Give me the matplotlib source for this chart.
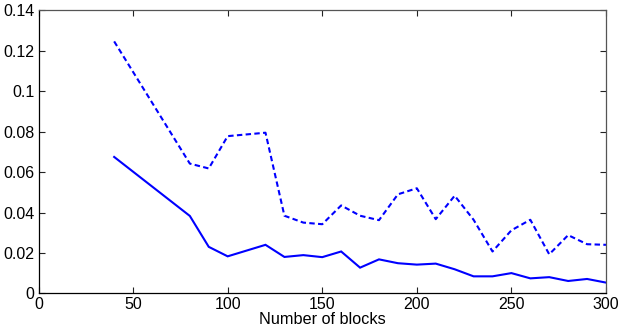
import matplotlib
matplotlib.use("Agg")
import matplotlib.pyplot as plt

blocks_solid = [40, 80, 90, 100, 120, 130, 140, 150, 160, 170, 180, 190, 200,
                210, 220, 230, 240, 250, 260, 270, 280, 290, 300]
solid_vals = [0.0675, 0.0383, 0.0230, 0.0183, 0.0240, 0.0180, 0.0189, 0.0179,
              0.0207, 0.0127, 0.0168, 0.0149, 0.0142, 0.0147, 0.0119, 0.0084,
              0.0084, 0.0100, 0.0074, 0.0080, 0.0061, 0.0071, 0.0053]
blocks_dashed = blocks_solid
dashed_vals = [0.1247, 0.0642, 0.0618, 0.0778, 0.0795, 0.0384, 0.0350, 0.0342,
               0.0435, 0.0384, 0.0362, 0.0490, 0.0520, 0.0367, 0.0483, 0.0364,
               0.0207, 0.0312, 0.0364, 0.0193, 0.0288, 0.0243, 0.0240]

xticks = [0, 50, 100, 150, 200, 250, 300]
yticks = [0, 0.02, 0.04, 0.06, 0.08, 0.1, 0.12, 0.14]
ytick_labels = ["0", "0.02", "0.04", "0.06", "0.08", "0.1", "0.12", "0.14"]
xlabel = "Number of blocks"

plt.rcParams['font.family'] = ['Liberation Sans', 'DejaVu Sans']

fig = plt.figure(figsize=(6.23, 3.33), dpi=100)
ax = fig.add_axes([0.0618, 0.1192, 0.9727 - 0.0618, 0.9685 - 0.1192])

ax.plot(blocks_solid, solid_vals, color='#0000ff', lw=1.5, solid_joinstyle='miter')
ax.plot(blocks_dashed, dashed_vals, color='#0000ff', lw=1.5, dashes=(2.6, 1.6))

ax.set_xlim(0, 300)
ax.set_ylim(0, 0.14)
ax.set_xticks(xticks)
ax.set_xticklabels([str(t) for t in xticks])
ax.set_yticks(yticks)
ax.set_yticklabels(ytick_labels)
ax.tick_params(direction='in', length=4, width=0.8, labelsize=11.5,
               top=True, right=True, colors='#222222', labelcolor='black', pad=3)
for s in ['top', 'right']:
    ax.spines[s].set_color('#555555')
for s in ['bottom', 'left']:
    ax.spines[s].set_color('black')
for s in ax.spines.values():
    s.set_linewidth(0.9)
ax.set_xlabel(xlabel, fontsize=11.7, labelpad=0)

fig.savefig("out.png", dpi=100)
